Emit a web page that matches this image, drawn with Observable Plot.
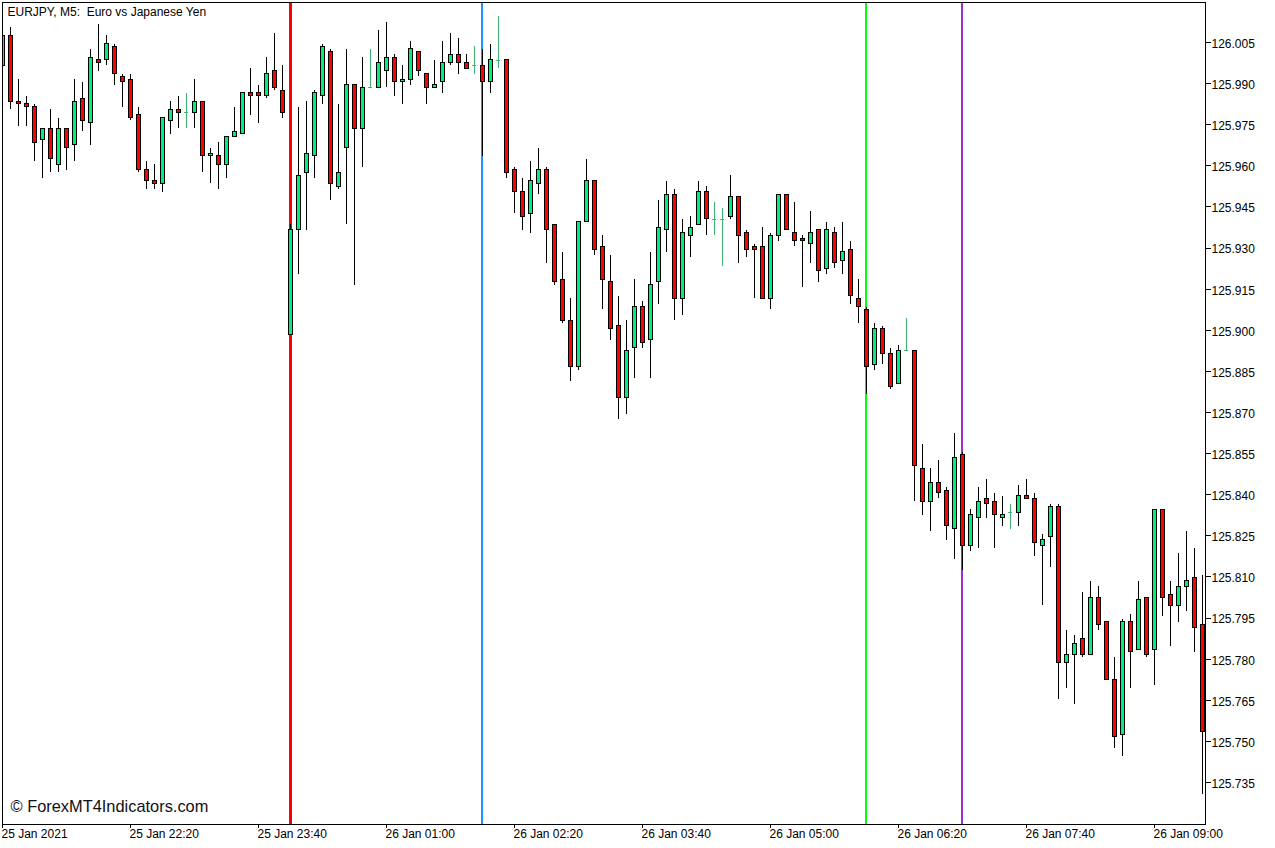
<!DOCTYPE html>
<html>
<head>
<meta charset="utf-8">
<script src="https://cdn.jsdelivr.net/npm/d3@7"></script>
<script src="https://cdn.jsdelivr.net/npm/@observablehq/plot@0.6"></script>
<style>html,body{margin:0;padding:0;background:#fff}svg{display:block}</style>
</head>
<body>
<div id="chart"></div>
<script>
// Prices are thousandths of a yen above 125.000 (1005 = 126.005)
const basePrice = 125;
const opens = [997,1008,984,983,982,970,974,961,974,968,
985,976,999,999,1004,993,992,979,959,955,
954,977,981,980,980,984,964,964,961,971,
972,987,987,986,995,988,899,937,958,964,
986,1002,953,967,990,974,989,989,995,1000,
991,992,1002,994,989,991,998,1001,998,997,
997,991,999,999,959,951,943,954,959,939,
919,904,887,940,955,931,918,902,876,894,
909,897,918,937,950,912,935,939,951,941,
941,942,949,936,931,931,912,935,950,936,
934,932,937,923,936,926,930,912,908,888,
901,892,881,893,893,850,838,845,842,828,
855,822,832,839,838,832,834,834,840,839,
822,825,836,779,782,788,782,803,794,773,
753,794,784,803,784,835,804,800,807,810,793];
const closes = [1008,984,983,982,969,974,963,974,967,984,
977,1000,998,1005,994,991,978,959,955,954,
978,981,980,980,984,964,965,961,971,973,
987,986,986,994,989,980,937,957,965,987,
1004,954,958,990,974,989,989,998,1000,991,
992,1003,995,989,990,998,1001,998,996,997,
991,999,999,958,951,942,955,959,937,918,
904,887,940,955,930,919,901,876,893,909,
896,917,938,950,912,936,938,951,941,941,
941,949,935,930,930,912,935,950,937,933,
933,936,922,937,925,929,913,909,887,901,
892,880,893,893,851,838,845,841,829,854,
822,833,838,837,833,833,834,840,839,823,
824,836,779,782,786,782,803,793,773,752,
794,783,802,782,835,803,800,807,809,792,754];
const highs = [1008,1011,992,986,983,974,981,978,974,992,
991,1003,1012,1008,1005,994,994,982,962,961,
978,984,986,987,992,984,967,969,971,982,
987,996,990,1000,1009,997,939,982,984,988,
1005,1003,983,1003,990,1000,1003,1010,1013,1001,
997,1006,1002,994,999,1006,1009,1007,1001,1004,
1003,1005,1015,999,960,956,962,967,960,939,
929,912,940,963,955,935,928,913,904,919,
911,929,948,955,952,941,942,955,953,947,
945,957,949,937,932,938,936,950,950,947,
935,944,937,940,938,940,933,919,909,903,
902,894,895,905,893,859,850,853,843,863,
856,835,843,846,841,840,837,844,846,841,
826,837,837,791,789,805,809,807,794,781,
795,797,809,803,835,835,809,819,827,821,811];
const lows = [997,981,975,975,962,956,958,958,959,962,
973,968,995,997,990,982,977,958,952,952,
951,972,974,974,974,958,954,952,956,971,
972,979,976,985,988,978,899,921,937,956,
983,948,952,939,917,960,989,989,989,986,
983,990,993,983,989,987,997,994,996,994,
964,987,996,956,943,937,936,950,925,917,
903,882,886,940,928,908,897,868,870,883,
894,883,910,929,904,906,927,939,935,935,
924,941,925,927,912,912,908,933,937,931,
916,925,918,921,923,921,910,903,877,886,
888,879,881,893,838,833,827,839,824,817,
813,820,821,832,821,829,828,829,839,818,
800,814,766,770,764,781,782,791,773,748,
745,770,784,781,771,796,785,794,798,783,731];

const priceTicks = [126.005,125.990,125.975,125.960,125.945,125.930,125.915,125.900,125.885,125.870,125.855,125.840,125.825,125.810,125.795,125.780,125.765,125.750,125.735];
const timeTickBars = [0,16,32,48,64,80,96,112,128,144];
const timeTickLabels = ["25 Jan 2021","25 Jan 22:20","25 Jan 23:40","26 Jan 01:00","26 Jan 02:20","26 Jan 03:40","26 Jan 05:00","26 Jan 06:20","26 Jan 07:40","26 Jan 09:00"];
const markerBars = [36,60,108,120];
const markerColors = ["#ff0000","#1e90ff","#00ff00","#9932cc"];
const markerWidths = [3,2,2,2];
const chartTitle = "EURJPY, M5:  Euro vs Japanese Yen";
const watermark = "\u00a9 ForexMT4Indicators.com";

const price = p => basePrice + p / 1000;
const candles = opens.map((o, i) => ({
  bar: i, open: price(o), close: price(closes[i]), high: price(highs[i]), low: price(lows[i]),
  top: price(Math.max(o, closes[i])), bottom: price(Math.min(o, closes[i])),
  up: closes[i] > o, doji: closes[i] === o
}));
const bodies = candles.filter(d => !d.doji);
const dojis = candles.filter(d => d.doji);
const wicks = bodies;
const markers = markerBars.map((bar, i) => ({bar, color: markerColors[i], width: markerWidths[i]}));

const BODY_HALF = 0.25;
const UP = "#00f078", DOWN = "#ff0000", DOJI = "#3cb371";
const font = "'Liberation Sans', Arial, sans-serif";
const crisp = {shapeRendering: "crispEdges"};
const noLabel = () => "";

const chart = Plot.plot({
  width: 1275, height: 848,
  marginLeft: 2, marginRight: 70, marginTop: 2, marginBottom: 24,
  style: {fontFamily: font, fontSize: "12px", background: "#fff", color: "#000"},
  x: {type: "linear", domain: [0, 150.375], range: [2, 1205]},
  y: {type: "linear", domain: [125.72004, 126.01996], range: [824.5, 2.5]},
  marks: [
    ...markers.map(m => Plot.ruleX([m], {x: "bar", y1: 125.71, y2: 126.03, clip: "frame", dx: m.width === 2 ? -0.5 : 0, stroke: m.color, strokeWidth: m.width, ...crisp})),
    Plot.ruleX(wicks, {x: "bar", y1: "low", y2: "high", stroke: "#000", strokeWidth: 1, clip: "frame", ...crisp}),
    Plot.ruleX(dojis, {x: "bar", y1: "low", y2: "high", stroke: DOJI, strokeWidth: 1, ...crisp}),
    Plot.ruleY(dojis, {y: "open", x1: d => d.bar - BODY_HALF, x2: d => d.bar + BODY_HALF, stroke: DOJI, strokeWidth: 1, ...crisp}),
    Plot.rect(bodies.filter(d => d.up), {x1: d => d.bar - BODY_HALF, x2: d => d.bar + BODY_HALF, y1: "bottom", y2: "top", fill: UP, stroke: "#000", strokeWidth: 1, clip: "frame", ...crisp}),
    Plot.rect(bodies.filter(d => !d.up), {x1: d => d.bar - BODY_HALF, x2: d => d.bar + BODY_HALF, y1: "bottom", y2: "top", fill: DOWN, stroke: "#000", strokeWidth: 1, clip: "frame", ...crisp}),
    Plot.frame({stroke: "#000", strokeWidth: 1, ...crisp}),
    // tick marks and labels are separate so each can sit on its own pixel row
    Plot.axisY({anchor: "right", ticks: priceTicks, tickFormat: noLabel, tickSize: 5, dy: -1.5, label: null, ...crisp}),
    Plot.axisY({anchor: "right", ticks: priceTicks, tickFormat: d => d.toFixed(3), tickSize: 0, tickPadding: 6, label: null, fontSize: 12, fontVariant: "normal"}),
    Plot.axisX({anchor: "bottom", ticks: timeTickBars, tickFormat: noLabel, tickSize: 4, label: null, ...crisp}),
    Plot.axisX({anchor: "bottom", ticks: timeTickBars, tickFormat: d => timeTickLabels[timeTickBars.indexOf(d)], tickSize: 0, tickPadding: 5, dx: -1, textAnchor: "start", label: null, fontSize: 12, fontVariant: "normal"}),
    Plot.text([chartTitle], {frameAnchor: "top-left", dx: 5, dy: 5, text: d => d, textAnchor: "start", lineAnchor: "top", fontSize: 12, fill: "#000"}),
    Plot.text([watermark], {frameAnchor: "bottom-left", dx: 8, dy: -13, text: d => d, textAnchor: "start", lineAnchor: "bottom", fontSize: 16.4, fill: "#101018"})
  ]
});
document.getElementById("chart").appendChild(chart);
</script>
</body>
</html>
